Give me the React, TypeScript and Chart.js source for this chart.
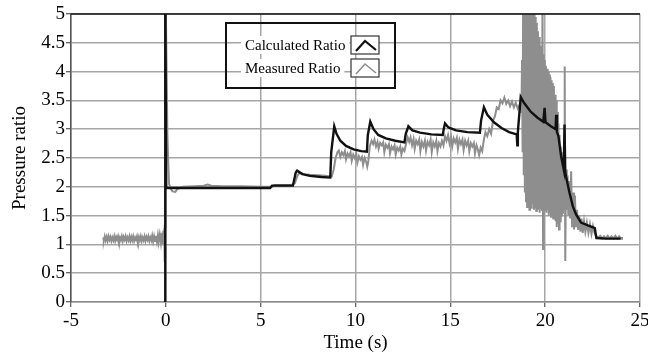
import React, { useEffect, useRef } from "react";
import { Chart, registerables } from "chart.js";

Chart.register(...registerables);

const seriesNames = ["Calculated Ratio", "Measured Ratio"];
const xTickValues = [-5, 0, 5, 10, 15, 20, 25];
const yTickValues = [0, 0.5, 1, 1.5, 2, 2.5, 3, 3.5, 4, 4.5, 5];
const xTitle = "Time (s)";
const yTitle = "Pressure ratio";

// [time (s), ratio]
const calculatedRatio: [number, number][] = [
  [-0.04, 0], [-0.03, 5.6], [0.02, 1.98], [5.5, 1.98], [5.6, 2.02], [6.7, 2.02],
  [6.85, 2.25], [6.92, 2.28], [7.2, 2.22], [7.6, 2.19], [8.2, 2.17], [8.67, 2.16],
  [8.72, 2.6], [8.88, 3.05], [9.0, 2.92], [9.2, 2.8], [9.5, 2.71], [9.9, 2.65],
  [10.3, 2.62], [10.6, 2.61], [10.65, 2.9], [10.78, 3.13], [10.95, 3.0], [11.2, 2.9],
  [11.6, 2.84], [12.1, 2.8], [12.58, 2.77], [12.65, 2.92], [12.79, 3.05], [13.0, 2.98],
  [13.4, 2.94], [14.0, 2.91], [14.6, 2.9], [14.65, 3.0], [14.72, 3.1], [14.9, 3.03],
  [15.3, 2.98], [15.9, 2.95], [16.56, 2.94], [16.62, 3.15], [16.77, 3.38], [16.95, 3.25],
  [17.3, 3.12], [17.7, 3.02], [18.1, 2.95], [18.5, 2.91], [18.53, 2.72], [18.56, 2.95],
  [18.71, 3.56], [18.9, 3.45], [19.25, 3.3], [19.6, 3.2], [19.9, 3.13], [19.97, 3.37],
  [20.02, 3.12], [20.3, 3.05], [20.55, 3.0], [20.58, 3.25], [20.62, 2.95], [20.7, 2.88],
  [20.84, 2.53], [20.98, 2.3], [21.02, 3.08], [21.06, 2.25], [21.1, 2.18], [21.28, 1.9],
  [21.46, 1.66], [21.63, 1.52], [21.89, 1.38], [22.25, 1.33], [22.56, 1.29], [22.62, 1.28],
  [22.7, 1.11], [23.2, 1.1], [23.98, 1.1],
];

const measuredRatio: [number, number][] = [
  [-3.3, 1.12], [-3.27, 1.06], [-3.22, 1.14], [-3.17, 1.07], [-3.12, 1.13], [-3.07, 1.06],
  [-3.02, 1.14], [-2.97, 1.08], [-2.92, 1.13], [-2.87, 1.06], [-2.82, 1.12], [-2.77, 1.07],
  [-2.72, 1.14], [-2.67, 1.06], [-2.62, 1.13], [-2.57, 1.08], [-2.52, 1.14], [-2.47, 1.06],
  [-2.42, 1.12], [-2.37, 1.07], [-2.32, 1.14], [-2.27, 1.06], [-2.22, 1.13], [-2.17, 1.08],
  [-2.12, 1.14], [-2.07, 1.06], [-2.02, 1.12], [-1.97, 1.07], [-1.92, 1.14], [-1.87, 1.06],
  [-1.82, 1.13], [-1.77, 1.07], [-1.72, 1.14], [-1.67, 1.06], [-1.62, 1.12], [-1.57, 1.08],
  [-1.52, 1.14], [-1.47, 1.06], [-1.42, 1.13], [-1.37, 1.07], [-1.32, 1.14], [-1.27, 1.06],
  [-1.22, 1.12], [-1.17, 1.07], [-1.12, 1.14], [-1.07, 1.06], [-1.02, 1.13], [-0.97, 1.08],
  [-0.92, 1.14], [-0.87, 1.06], [-0.82, 1.12], [-0.77, 1.07], [-0.72, 1.15], [-0.67, 1.05],
  [-0.62, 1.14], [-0.57, 1.06], [-0.52, 1.15], [-0.47, 1.05], [-0.42, 1.16], [-0.38, 1.04],
  [-0.32, 1.17], [-0.26, 1.03], [-0.21, 1.2], [-0.17, 1.01], [-0.13, 1.24], [-0.1, 0.98],
  [-0.08, 1.28], [-0.07, 0.9], [-0.06, 1.34], [-0.05, 0.7], [-0.04, 1.3], [-0.03, 5.6],
  [-0.01, 5.6], [0.08, 2.94], [0.12, 2.5], [0.17, 2.05], [0.25, 1.97], [0.35, 1.92],
  [0.5, 1.91], [0.6, 1.96], [0.9, 2.0], [1.5, 2.01], [2.0, 2.02], [2.2, 2.04],
  [2.4, 2.02], [3.0, 2.01], [4.0, 2.01], [5.0, 2.0], [5.6, 2.0], [5.75, 2.03],
  [6.6, 2.03], [6.8, 2.06], [6.95, 2.2], [7.05, 2.24], [7.3, 2.22], [7.6, 2.21],
  [8.0, 2.2], [8.4, 2.19], [8.75, 2.18], [8.85, 2.3], [8.95, 2.5], [9.05, 2.6],
  [9.12, 2.63], [9.2, 2.52], [9.28, 2.6], [9.36, 2.55], [9.44, 2.62], [9.5, 2.48],
  [9.58, 2.58], [9.66, 2.53], [9.74, 2.6], [9.8, 2.45], [9.88, 2.56], [9.96, 2.5],
  [10.04, 2.57], [10.1, 2.42], [10.18, 2.53], [10.26, 2.47], [10.34, 2.52], [10.4, 2.38],
  [10.48, 2.5], [10.56, 2.44], [10.62, 2.35], [10.68, 2.45], [10.75, 2.7], [10.85, 2.8],
  [10.93, 2.74], [11.0, 2.82], [11.08, 2.7], [11.16, 2.78], [11.22, 2.66], [11.3, 2.76],
  [11.38, 2.72], [11.46, 2.77], [11.52, 2.6], [11.6, 2.73], [11.68, 2.68], [11.76, 2.74],
  [11.82, 2.58], [11.9, 2.7], [11.98, 2.65], [12.06, 2.72], [12.12, 2.56], [12.2, 2.68],
  [12.28, 2.63], [12.36, 2.7], [12.42, 2.56], [12.5, 2.66], [12.58, 2.62], [12.66, 2.74],
  [12.75, 2.86], [12.83, 2.78], [12.9, 2.86], [12.98, 2.72], [13.06, 2.83], [13.12, 2.66],
  [13.2, 2.8], [13.28, 2.74], [13.36, 2.82], [13.42, 2.62], [13.5, 2.78], [13.58, 2.7],
  [13.66, 2.8], [13.72, 2.63], [13.8, 2.78], [13.88, 2.72], [13.96, 2.82], [14.02, 2.6],
  [14.1, 2.77], [14.18, 2.7], [14.26, 2.8], [14.32, 2.62], [14.4, 2.76], [14.48, 2.7],
  [14.56, 2.8], [14.64, 2.72], [14.72, 2.88], [14.8, 2.8], [14.88, 2.9], [14.96, 2.75],
  [15.04, 2.86], [15.1, 2.7], [15.18, 2.84], [15.26, 2.77], [15.34, 2.85], [15.4, 2.66],
  [15.48, 2.82], [15.56, 2.74], [15.64, 2.82], [15.7, 2.64], [15.78, 2.8], [15.86, 2.72],
  [15.94, 2.8], [16.0, 2.62], [16.08, 2.76], [16.16, 2.7], [16.24, 2.76], [16.3, 2.58],
  [16.38, 2.72], [16.46, 2.64], [16.52, 2.55], [16.6, 2.68], [16.68, 2.62], [16.76, 2.8],
  [16.85, 2.95], [16.95, 2.88], [17.05, 3.0], [17.15, 2.92], [17.25, 3.15], [17.35, 3.22],
  [17.45, 3.38], [17.55, 3.35], [17.65, 3.5], [17.75, 3.45], [17.85, 3.55], [17.95, 3.44],
  [18.05, 3.5], [18.15, 3.4], [18.25, 3.48], [18.35, 3.38], [18.45, 3.46], [18.55, 3.36],
  [18.65, 3.42], [18.72, 3.3], [18.75, 3.3], [18.78, 4.2], [18.81, 2.6], [18.84, 5.5],
  [18.87, 2.2], [18.9, 5.5], [18.93, 1.9], [18.96, 5.6], [18.99, 1.75], [19.02, 5.6],
  [19.05, 1.65], [19.08, 5.6], [19.11, 1.7], [19.14, 5.6], [19.17, 1.6], [19.2, 5.6],
  [19.23, 1.68], [19.26, 5.6], [19.29, 1.62], [19.32, 5.6], [19.35, 1.7], [19.38, 5.5],
  [19.41, 1.6], [19.44, 5.3], [19.47, 1.65], [19.5, 4.95], [19.53, 1.58], [19.56, 4.85],
  [19.59, 1.66], [19.62, 4.7], [19.65, 1.6], [19.68, 4.6], [19.71, 1.55], [19.74, 4.45],
  [19.77, 1.62], [19.8, 4.4], [19.83, 1.58], [19.86, 5.5], [19.89, 0.92], [19.92, 4.3],
  [19.95, 1.6], [19.98, 4.2], [20.01, 1.62], [20.04, 4.1], [20.07, 1.55], [20.1, 4.05],
  [20.13, 1.6], [20.16, 4.0], [20.19, 1.5], [20.22, 3.95], [20.25, 1.55], [20.28, 3.9],
  [20.31, 1.48], [20.34, 3.85], [20.37, 1.52], [20.4, 3.8], [20.43, 1.45], [20.46, 3.75],
  [20.49, 1.5], [20.52, 3.6], [20.55, 1.4], [20.58, 3.5], [20.61, 1.3], [20.64, 3.3],
  [20.67, 1.35], [20.7, 3.1], [20.73, 1.26], [20.76, 2.9], [20.79, 1.4], [20.82, 2.7],
  [20.85, 1.5], [20.88, 2.6], [20.91, 1.55], [20.94, 2.5], [20.97, 1.6], [21.0, 2.45],
  [21.03, 4.09], [21.06, 0.71], [21.1, 2.3], [21.14, 1.6], [21.18, 2.2], [21.22, 1.5],
  [21.27, 2.1], [21.32, 1.45], [21.37, 2.27], [21.42, 1.3], [21.47, 1.9], [21.52, 1.26],
  [21.57, 1.85], [21.62, 1.3], [21.68, 1.6], [21.74, 1.25], [21.8, 1.5], [21.86, 1.22],
  [21.92, 1.45], [21.98, 1.2], [22.05, 1.4], [22.12, 1.22], [22.2, 1.38], [22.28, 1.2],
  [22.36, 1.35], [22.44, 1.18], [22.52, 1.32], [22.6, 1.2], [22.68, 1.15], [22.8, 1.12],
  [22.9, 1.15], [23.0, 1.1], [23.1, 1.14], [23.2, 1.1], [23.3, 1.15], [23.4, 1.1],
  [23.5, 1.14], [23.6, 1.1], [23.7, 1.15], [23.8, 1.1], [23.9, 1.14], [24.0, 1.1],
  [24.05, 1.13],
];

const FONT = "'Liberation Serif', 'Times New Roman', serif";
const BLACK = "#000000";
const GRAY = "#8e8e8e";

const framePlugin = {
  id: "frameAndLegend",
  afterDraw(chart: any) {
    const { ctx, chartArea } = chart;
    const { left, right, top } = chartArea;
    ctx.save();
    ctx.strokeStyle = "#111111";
    ctx.lineWidth = 1.5;
    ctx.beginPath();
    ctx.moveTo(left, top);
    ctx.lineTo(right, top);
    ctx.stroke();

    const bx = left + 155;
    const by = top + 9;
    const bw = 169;
    const bh = 65;
    ctx.font = `15px ${FONT}`;
    ctx.textBaseline = "middle";
    ctx.textAlign = "left";
    const colors = ["#111111", GRAY];
    const widths = [2.2, 1.6];
    seriesNames.forEach((name, i) => {
      const cy = by + 22 + i * 23;
      const tx = bx + 19;
      const tw = ctx.measureText(name).width;
      ctx.fillStyle = "#ffffff";
      ctx.fillRect(tx - 4, cy - 9, tw + 8, 18);
      ctx.fillStyle = BLACK;
      ctx.fillText(name, tx, cy + 1);
      const sx = bx + 125;
      const sy = cy - 9;
      const sw = 28;
      const sh = 18;
      ctx.fillStyle = "#ffffff";
      ctx.fillRect(sx, sy, sw, sh);
      ctx.strokeStyle = "#333333";
      ctx.lineWidth = 1.2;
      ctx.strokeRect(sx, sy, sw, sh);
      ctx.strokeStyle = colors[i];
      ctx.lineWidth = widths[i];
      ctx.beginPath();
      ctx.moveTo(sx + 5, sy + 15);
      ctx.lineTo(sx + 14, sy + 5);
      ctx.lineTo(sx + 25, sy + 14);
      ctx.stroke();
    });
    ctx.strokeStyle = "#111111";
    ctx.lineWidth = 2;
    ctx.strokeRect(bx, by, bw, bh);
    ctx.restore();
  },
};

export default function App() {
  const canvasRef = useRef<HTMLCanvasElement | null>(null);

  useEffect(() => {
    if (!canvasRef.current) return;
    const chart = new Chart(canvasRef.current, {
      type: "line",
      data: {
        datasets: [
          {
            label: seriesNames[0],
            data: calculatedRatio.map(([x, y]) => ({ x, y })),
            borderColor: "#111111",
            borderWidth: 2.4,
            pointRadius: 0,
            tension: 0,
            fill: false,
          },
          {
            label: seriesNames[1],
            data: measuredRatio.map(([x, y]) => ({ x, y })),
            borderColor: GRAY,
            borderWidth: 2,
            pointRadius: 0,
            tension: 0,
            fill: false,
          },
        ],
      },
      options: {
        animation: false,
        responsive: false,
        maintainAspectRatio: false,
        layout: { padding: { left: 0, right: 8, top: 14, bottom: 0 } },
        plugins: { legend: { display: false }, tooltip: { enabled: false } },
        scales: {
          x: {
            type: "linear",
            min: -5,
            max: 25,
            afterBuildTicks: (s: any) => {
              s.ticks = xTickValues.map((v) => ({ value: v }));
            },
            afterFit: (s: any) => {
              s.height = 52;
              s.paddingLeft = 0;
              s.paddingRight = 0;
            },
            grid: { color: "#a6a6a6", lineWidth: 1.5, tickColor: "#333333", tickLength: 5, tickWidth: 1 },
            border: { color: "#8c8c8c", width: 1.5 },
            ticks: {
              color: BLACK,
              font: { family: FONT, size: 19 },
              padding: 3,
              maxRotation: 0,
              autoSkip: false,
              callback: (v: any) => String(v),
            },
            title: {
              display: true,
              text: xTitle,
              color: BLACK,
              font: { family: FONT, size: 19 },
              padding: { top: 0, bottom: 0 },
            },
          },
          y: {
            type: "linear",
            min: 0,
            max: 5,
            afterBuildTicks: (s: any) => {
              s.ticks = yTickValues.map((v) => ({ value: v }));
            },
            afterFit: (s: any) => {
              s.width = 71;
              s.paddingTop = 0;
              s.paddingBottom = 0;
            },
            grid: { color: "#a6a6a6", lineWidth: 1.5, tickColor: "#333333", tickLength: 5, tickWidth: 1 },
            border: { color: "#555555", width: 1.5 },
            ticks: {
              color: BLACK,
              font: { family: FONT, size: 19 },
              padding: 1,
              autoSkip: false,
              callback: (v: any) => String(v),
            },
            title: {
              display: true,
              text: yTitle,
              color: BLACK,
              font: { family: FONT, size: 19 },
              padding: { top: 9, bottom: 0 },
            },
          },
        },
      },
      plugins: [framePlugin],
    } as any);
    return () => chart.destroy();
  }, []);

  return (
    <div style={{ position: "fixed", left: 0, top: 0, width: 648, height: 354, background: "#ffffff" }}>
      <canvas ref={canvasRef} width={648} height={354} style={{ display: "block", width: 648, height: 354 }} />
    </div>
  );
}
